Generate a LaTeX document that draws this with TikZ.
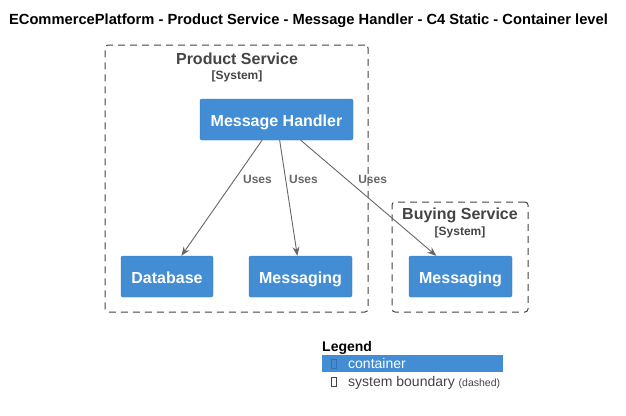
\documentclass[tikz,border=0pt]{standalone}
\usepackage{fontspec}
\setmainfont{Liberation Sans}
\usepackage{tikz}
\usetikzlibrary{arrows.meta}

\definecolor{containerblue}{HTML}{438DD5}
\definecolor{boundgray}{HTML}{444444}
\definecolor{relgray}{HTML}{666666}

\begin{document}
\begin{tikzpicture}[x=1pt, y=-1pt,
    container/.style={fill=containerblue, draw=containerblue!85!black, rounded corners=2pt,
        text=white, font=\fontsize{16}{19}\selectfont\bfseries, inner sep=0pt, minimum height=41pt,
        text height=14pt, text depth=1pt},
    boundary/.style={draw=boundgray, line width=1pt, dash pattern=on 7pt off 5pt, rounded corners=3pt, inner sep=0pt},
    boundtitle/.style={text=boundgray, font=\fontsize{16}{19}\selectfont\bfseries, inner sep=0pt},
    boundtype/.style={text=boundgray, font=\fontsize{12}{14}\selectfont\bfseries, inner sep=0pt},
    rel/.style={draw=relgray, line width=0.9pt, -{Stealth[length=9pt, width=7pt]}},
    uses/.style={text=relgray, font=\fontsize{12}{14}\selectfont\bfseries, inner sep=0pt},
    tofu/.style={draw=#1, line width=0.6pt, minimum width=5pt, minimum height=9pt, inner sep=0pt}
]
    \useasboundingbox (0,0) rectangle (626,415);

    %Title
    \node[font=\fontsize{14.7}{17}\selectfont\bfseries, inner sep=0pt] (title) at (308.5,21)
        {ECommercePlatform - Product Service - Message Handler - C4 Static - Container level};

    % Product Service boundary
    \node[boundary, minimum width=263pt, minimum height=267pt] (ps) at (236.5,178.5) {};
    \node[boundtitle] (pstitle) at (237,59) {Product Service};
    \node[boundtype] (pstype) at (237,76) {[System]};

    % Buying Service boundary
    \node[boundary, minimum width=136pt, minimum height=110pt] (bs) at (460,257) {};
    \node[boundtitle] (bstitle) at (460,215) {Buying Service};
    \node[boundtype] (bstype) at (460,232) {[System]};

    % containers
    \node[container, minimum width=153pt] (mh) at (276.5,119.5) {Message Handler};
    \node[container, minimum width=92pt] (db) at (167,276.5) {Database};
    \node[container, minimum width=103pt] (msg) at (300.5,276.5) {Messaging};
    \node[container, minimum width=103pt] (bmsg) at (460.5,276.5) {Messaging};

    % relations
    \draw[rel] (mh) -- node[uses, pos=0.34, right=8pt] (u1) {Uses} (db);
    \draw[rel] (mh) -- node[uses, pos=0.34, right=3pt] (u2) {Uses} (msg);
    \draw[rel] (mh) -- node[uses, pos=0.34, right=11pt] (u3) {Uses} (bmsg);

    %Legend
    \node[anchor=base west, font=\fontsize{14}{17}\selectfont\bfseries, inner sep=0pt] (legend) at (322,351) {Legend};
    \node[fill=containerblue, anchor=north west, minimum width=181pt, minimum height=17pt, inner sep=0pt] (legbar) at (322,355) {};
    \node[tofu=containerblue!80!black] (tofua) at (333.5,363.5) {};
    \node[anchor=west, text=white, font=\fontsize{14}{17}\selectfont, inner sep=0pt] (legcont) at (348,363.5) {container};
    \node[tofu=boundgray] (tofub) at (333.5,382) {};
    \node[anchor=west, text=boundgray, font=\fontsize{14}{17}\selectfont, inner sep=0pt] (legbound) at (348,383)
        {system boundary {\fontsize{10.5}{12}\selectfont(dashed)}};

\end{tikzpicture}
\end{document}
